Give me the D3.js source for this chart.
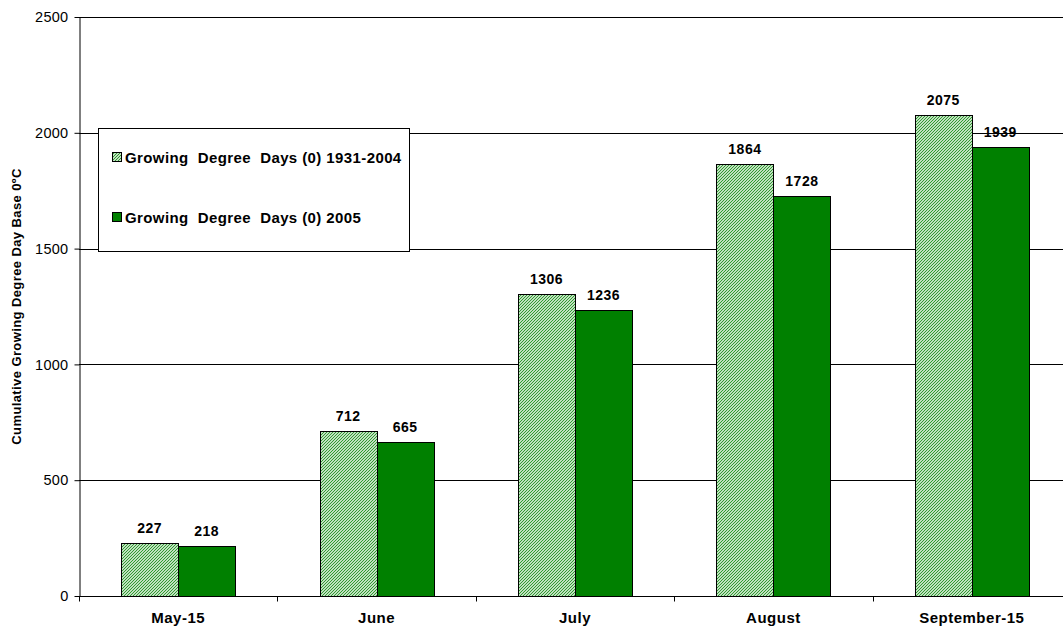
<!DOCTYPE html>
<html>
<head>
<meta charset="utf-8">
<script src="https://cdn.jsdelivr.net/npm/d3@7"></script>
<style>
  html, body { margin: 0; padding: 0; background: #fff; }
  svg { display: block; font-family: Arial, "Liberation Sans", sans-serif; }
</style>
</head>
<body>
<svg id="chart" width="1063" height="629"></svg>
<script>
// Cumulative growing degree days (base 0 °C), long-term mean vs 2005
const categories = ["May-15", "June", "July", "August", "September-15"];
const seriesNames = ["Growing  Degree  Days (0) 1931-2004", "Growing  Degree  Days (0) 2005"];
const normalValues = [227, 712, 1306, 1864, 2075];
const values2005 = [218, 665, 1236, 1728, 1939];
const yTicks = [0, 500, 1000, 1500, 2000, 2500];
const yTitle = "Cumulative Growing Degree Day Base 0ºC";

const svg = d3.select("#chart");
const margin = { left: 79, top: 17, right: 1071, bottom: 596 };

// Fine diagonal hatch fill for the long-term series
const defs = svg.append("defs");
const pat = defs.append("pattern")
  .attr("id", "hatch")
  .attr("patternUnits", "userSpaceOnUse")
  .attr("width", 3).attr("height", 3);
pat.append("rect").attr("width", 3).attr("height", 3).attr("fill", "#ffffff");
pat.append("path")
  .attr("d", "M-1,1 l2,-2 M0,3 l3,-3 M2,4 l2,-2")
  .attr("stroke", "#259525").attr("stroke-width", 1.1);

const x = d3.scaleBand().domain(categories).range([margin.left, margin.right]).paddingInner(0).paddingOuter(0);
const inner = d3.scaleBand().domain([0, 1]).range([0, x.bandwidth()]).paddingInner(0).paddingOuter(0.74);
const y = d3.scaleLinear().domain([0, 2500]).range([margin.bottom, margin.top]);

// Horizontal gridlines
svg.append("g").selectAll("line").data(yTicks.filter(d => d > 0)).join("line")
  .attr("x1", margin.left).attr("x2", 1063)
  .attr("y1", d => Math.round(y(d)) + 0.5).attr("y2", d => Math.round(y(d)) + 0.5)
  .attr("stroke", "#000").attr("stroke-width", 1);

// Y axis
const yAxis = svg.append("g")
  .attr("transform", `translate(${margin.left + 0.5},0)`)
  .call(d3.axisLeft(y).tickValues(yTicks).tickSize(5).tickSizeOuter(0).tickFormat(d3.format("d")));
yAxis.selectAll("text").attr("font-size", 14.5).attr("letter-spacing", 0.3).attr("fill", "#000")
  .attr("font-family", "Arial, 'Liberation Sans', sans-serif").attr("dx", "-3");
yAxis.selectAll("line, path").attr("stroke", "#000");

// X axis with category ticks at band edges
const xAxisG = svg.append("g").attr("transform", `translate(0,${margin.bottom + 0.5})`);
xAxisG.append("line").attr("x1", margin.left).attr("x2", 1063).attr("stroke", "#000");
const edges = categories.map(c => x(c)).concat([margin.right]);
xAxisG.selectAll("line.tick").data(edges).join("line").attr("class", "tick")
  .attr("x1", d => Math.round(d) + 0.5).attr("x2", d => Math.round(d) + 0.5)
  .attr("y1", 0).attr("y2", 5).attr("stroke", "#000");
xAxisG.selectAll("text").data(categories).join("text")
  .attr("x", d => x(d) + x.bandwidth() / 2).attr("y", 26)
  .attr("text-anchor", "middle").attr("font-size", 15).attr("letter-spacing", 0.5).attr("font-weight", "bold")
  .text(d => d);

// Bars
const series = [
  { name: seriesNames[0], values: normalValues, fill: "url(#hatch)" },
  { name: seriesNames[1], values: values2005, fill: "#008000" }
];
series.forEach((s, si) => {
  const g = svg.append("g");
  g.selectAll("rect").data(categories).join("rect")
    .attr("x", (c) => Math.round(x(c) + inner(si)) + 0.5)
    .attr("y", (c, i) => Math.round(y(s.values[i])) + 0.5)
    .attr("width", Math.round(inner.bandwidth()))
    .attr("height", (c, i) => Math.round(y(0)) - Math.round(y(s.values[i])))
    .attr("fill", s.fill).attr("stroke", "#000").attr("stroke-width", 1);
  g.selectAll("text").data(categories).join("text")
    .attr("x", c => x(c) + inner(si) + inner.bandwidth() / 2)
    .attr("y", (c, i) => y(s.values[i]) - 10)
    .attr("text-anchor", "middle").attr("font-size", 14).attr("letter-spacing", 0.5).attr("font-weight", "bold")
    .text((c, i) => s.values[i]);
});

// Y axis title
svg.append("text")
  .attr("transform", `translate(21,${(margin.top + margin.bottom) / 2}) rotate(-90)`)
  .attr("text-anchor", "middle").attr("font-size", 13).attr("letter-spacing", 0.4).attr("font-weight", "bold")
  .text(yTitle);

// Legend
const lg = svg.append("g");
lg.append("rect").attr("x", 98.5).attr("y", 128.5).attr("width", 311).attr("height", 123)
  .attr("fill", "#fff").attr("stroke", "#000");
series.forEach((s, i) => {
  const cy = 158 + i * 60;
  lg.append("rect").attr("x", 112.5).attr("y", cy - 5.5).attr("width", 9).attr("height", 9)
    .attr("fill", s.fill).attr("stroke", "#000");
  lg.append("text").attr("x", 125).attr("y", cy + 5)
    .attr("font-size", 15).attr("letter-spacing", 0.4).attr("font-weight", "bold")
    .attr("xml:space", "preserve").style("white-space", "pre")
    .text(s.name);
});
</script>
</body>
</html>
